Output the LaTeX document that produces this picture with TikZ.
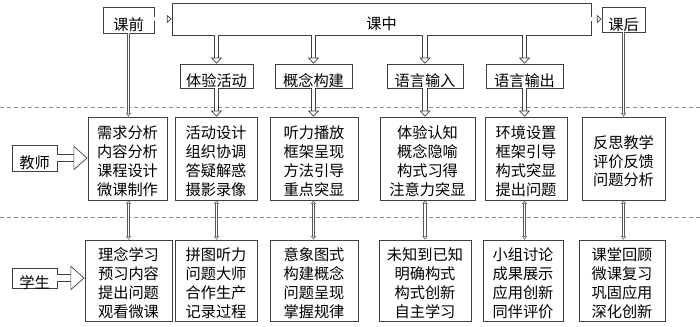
\documentclass[tikz,border=0pt]{standalone}
\usepackage{fontspec}
\setmainfont{Noto Sans CJK SC}
\usetikzlibrary{arrows.meta,fit}

\tikzset{
  box/.style={draw=black!75, line width=0.7pt, inner sep=0pt},
  txt/.style={inner sep=0pt, align=center, yshift=-1.5mm,
    font=\fontsize{13}{16}\selectfont},
  txtm/.style={txt, yshift=0.7mm},
  sep/.style={draw=black!45, line width=0.8pt, dash pattern=on 3.5pt off 2.5pt},
  hol/.style={draw=black!75, double=white, double distance=3.2pt, line width=0.6pt,
    -{Triangle[open, length=5pt, width=9.5pt]}},
  holbig/.style={draw=black!75, double=white, double distance=5.2pt, line width=0.6pt,
    -{Triangle[open, length=12pt, width=21pt]}},
  holtop/.style={draw=black!75, double=white, double distance=2.6pt, line width=0.6pt,
    -{Triangle[open, length=4pt, width=7pt]}},
  link/.style={draw=black!65, double=white, double distance=1.6pt, line width=0.5pt,
    -{Triangle[open, length=3pt, width=4.5pt]}},
  linkboth/.style={link, {Triangle[open, length=3pt, width=4.5pt]}-{Triangle[open, length=3pt, width=4.5pt]}}
}

\begin{document}
\begin{tikzpicture}[x=0.03cm, y=-0.03cm]
\useasboundingbox (0,0) rectangle (700,326);
\draw[sep] (0,107) -- (700,107);
\draw[sep] (0,217) -- (700,217);
% top row
\node[box, fit={(103,7) (154,33)}] (kq) {};
\node[txt] (kq-txt) at (kq) {课前};
\node[box, fit={(172,3) (591,35)}] (kz) {};
\node[txt] (kz-txt) at (kz) {课中};
\node[box, fit={(602,7) (645,32)}] (kh) {};
\node[txt] (kh-txt) at (kh) {课后};
\draw[holtop] (kq.east |- 0,19) -- (kz.west |- 0,19);
\draw[holtop] (kz.east |- 0,19) -- (kh.west |- 0,19);
\foreach \n/\xa/\xb/\txt in {a2/180/253/体验活动, a3/275/352/概念构建, a4/387/463/语言输入, a5/486/563/语言输出} {
  \node[box, fit={(\xa,64) (\xb,88)}] (\n) {};
  \node[txt] (\n-txt) at (\n) {\txt};
}
% teacher and student rows
\node[box, fit={(12,145) (57,171)}] (js) {};
\node[txt] (js-txt) at (js) {教师};
\node[box, fit={(12,268) (57,288)}] (xs) {};
\node[txt] (xs-txt) at (xs) {学生};
\foreach \n/\xa/\xb/\txt in {t1/88/167/{需求分析\\内容分析\\课程设计\\微课制作},
    t2/175/257/{活动设计\\组织协调\\答疑解惑\\摄影录像},
    t3/270/358/{听力播放\\框架呈现\\方法引导\\重点突显},
    t4/380/475/{体验认知\\概念隐喻\\构式习得\\注意力突显},
    t5/485/567/{环境设置\\框架引导\\构式突显\\提出问题},
    t6/582/665/{反思教学\\评价反馈\\问题分析}} {
  \node[box, fit={(\xa,117) (\xb,200)}] (\n) {};
  \node[txtm] (\n-txt) at (\n) {\txt};
}
\foreach \n/\xa/\xb/\txt in {p1/85/172/{理念学习\\预习内容\\提出问题\\观看微课},
    p2/175/257/{拼图听力\\问题大师\\合作生产\\记录过程},
    p3/270/358/{意象图式\\构建概念\\问题呈现\\掌握规律},
    p4/379/471/{未知到已知\\明确构式\\构式创新\\自主学习},
    p5/483/563/{小组讨论\\成果展示\\应用创新\\同伴评价},
    p6/579/665/{课堂回顾\\微课复习\\巩固应用\\深化创新}} {
  \node[box, fit={(\xa,240) (\xb,321)}] (\n) {};
  \node[txtm] (\n-txt) at (\n) {\txt};
}
\draw[holbig] (js.east) -- (js.east -| t1.west);
\draw[holbig] (xs.east) -- (xs.east -| p1.west);
% vertical links
\draw[link] (kq.south) -- (kq.south |- t1.north);
\draw[linkboth] (kq.south |- t1.south) -- (kq.south |- p1.north);
\draw[link] (kh.south) -- (kh.south |- t6.north);
\draw[linkboth] (kh.south |- t6.south) -- (kh.south |- p6.north);
\foreach \a/\t/\p in {a2/t2/p2, a3/t3/p3, a4/t4/p4, a5/t5/p5} {
  \draw[hol] (kz.south -| \a.north) -- (\a.north);
  \draw[hol] (\a.south) -- (\a.south |- \t.north);
  \draw[linkboth] (\a.south |- \t.south) -- (\a.south |- \p.north);
}
\end{tikzpicture}
\end{document}
